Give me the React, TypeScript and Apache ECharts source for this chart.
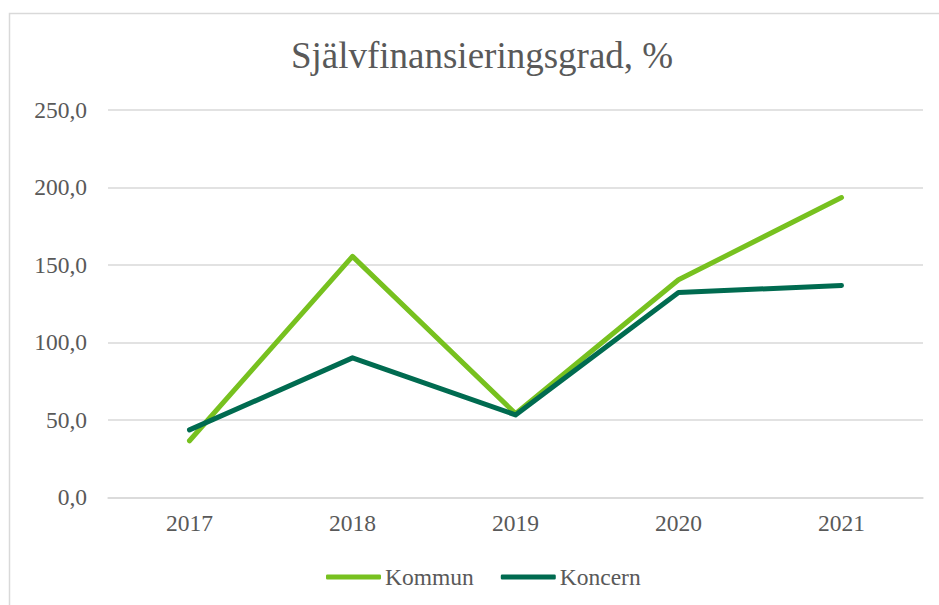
import React, { useEffect, useRef } from "react";
import * as echarts from "echarts";

const categories = ["2017", "2018", "2019", "2020", "2021"];
const kommun = [36.5, 155.5, 54.0, 140.4, 193.5];
const koncern = [43.5, 90.0, 53.2, 132.2, 136.7];
const seriesNames = ["Kommun", "Koncern"];
const titleText = "Självfinansieringsgrad, %";

const FONT = "'Liberation Serif', 'Times New Roman', serif";
const TEXT = "#595959";
const GRID = "#d9d9d9";

export default function App() {
  const ref = useRef<HTMLDivElement>(null);
  useEffect(() => {
    document.body.style.margin = "0";
    const chart = echarts.init(ref.current!, null, { renderer: "svg" });
    chart.setOption({
      animation: false,
      backgroundColor: "#ffffff",
      title: {
        text: titleText,
        left: 477,
        top: 32,
        textAlign: "center",
        textStyle: { fontFamily: FONT, fontSize: 37, fontWeight: "normal", color: TEXT },
      },
      graphic: [
        {
          type: "rect",
          shape: { x: 9.5, y: 13.5, width: 940, height: 600 },
          style: { fill: "none", stroke: GRID, lineWidth: 1.5 },
          silent: true,
          z: -1,
        },
      ],
      grid: { left: 108, right: 16, top: 110, height: 387.3, containLabel: false },
      legend: {
        top: 560,
        left: 321,
        data: seriesNames,
        itemWidth: 55,
        itemHeight: 5,
        itemGap: 27,
        icon: "roundRect",
        textStyle: { fontFamily: FONT, fontSize: 23.5, color: TEXT, padding: [0, 0, 0, -1] },
      },
      xAxis: {
        type: "category",
        data: categories,
        boundaryGap: true,
        axisLine: { show: true, lineStyle: { color: GRID, width: 1.5 } },
        axisTick: { show: false },
        axisLabel: { fontFamily: FONT, fontSize: 23.5, color: TEXT, margin: 14 },
      },
      yAxis: {
        type: "value",
        min: 0,
        max: 250,
        interval: 50,
        axisLine: { show: false },
        axisTick: { show: false },
        splitLine: { lineStyle: { color: GRID, width: 1.5 } },
        axisLabel: {
          fontFamily: FONT,
          fontSize: 23.5,
          color: TEXT,
          margin: 21,
          formatter: (v: number) => v.toFixed(1).replace(".", ","),
        },
      },
      series: [
        {
          name: seriesNames[0],
          type: "line",
          data: kommun,
          showSymbol: false,
          symbol: "none",
          color: "#77c11f",
          lineStyle: { width: 5, color: "#77c11f", cap: "round", join: "round" },
          z: 2,
        },
        {
          name: seriesNames[1],
          type: "line",
          data: koncern,
          showSymbol: false,
          symbol: "none",
          color: "#006b50",
          lineStyle: { width: 5, color: "#006b50", cap: "round", join: "round" },
          z: 3,
        },
      ],
    });
    return () => chart.dispose();
  }, []);
  return <div ref={ref} style={{ width: 939, height: 605 }} />;
}
